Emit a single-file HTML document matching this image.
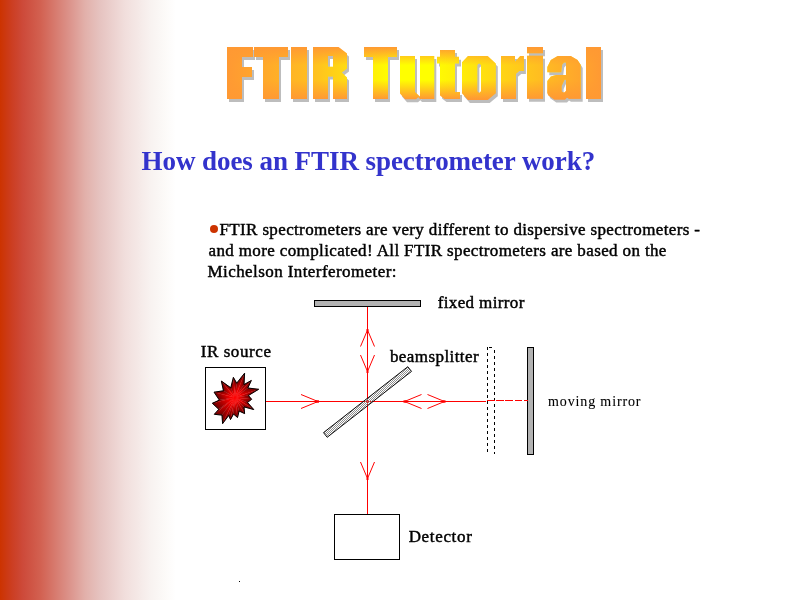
<!DOCTYPE html>
<html><head><meta charset="utf-8">
<style>
html,body{margin:0;padding:0;width:800px;height:600px;overflow:hidden;background:#fff}
#bg{position:absolute;left:0;top:0;width:800px;height:600px;
background:linear-gradient(to right,#CC3300 0px,#CC3E22 12px,#CD4A3A 23px,#D26050 40px,#D77A6E 55px,#DC948C 70px,#E2B0AA 85px,#E6C3C0 100px,#F1DEDC 125px,#F8F2F0 150px,#FCFAF8 165px,#FFFFFF 176px)}
svg{position:absolute;left:0;top:0;will-change:transform}
</style></head><body>
<div id="bg"></div>
<svg width="800" height="600" viewBox="0 0 800 600">
<defs>
  <linearGradient id="gv" x1="0" y1="47" x2="0" y2="99" gradientUnits="userSpaceOnUse">
    <stop offset="0" stop-color="#FF9933"/>
    <stop offset="0.5" stop-color="#FFFF00"/>
    <stop offset="1" stop-color="#FF9933"/>
  </linearGradient>
  <linearGradient id="gh" x1="227" y1="0" x2="601" y2="0" gradientUnits="userSpaceOnUse">
    <stop offset="0" stop-color="#FF9933" stop-opacity="1"/>
    <stop offset="0.5" stop-color="#FF9933" stop-opacity="0"/>
    <stop offset="1" stop-color="#FF9933" stop-opacity="1"/>
  </linearGradient>
  <radialGradient id="star" cx="235" cy="397" r="26" gradientUnits="userSpaceOnUse">
    <stop offset="0" stop-color="#FF0000"/>
    <stop offset="0.35" stop-color="#EE0000"/>
    <stop offset="1" stop-color="#7A0000"/>
  </radialGradient>
</defs>

<!-- heading -->
<text x="141.5" y="170" font-family="Liberation Serif" font-weight="bold" font-size="27" fill="#3333CC" letter-spacing="-0.06">How does an FTIR spectrometer work?</text>

<!-- bullet text -->
<circle cx="214" cy="229" r="4" fill="#CC3300"/>
<g font-family="Liberation Serif" font-size="17" fill="#000" stroke="#000" stroke-width="0.45" letter-spacing="0.32">
<text x="219.5" y="235" letter-spacing="0.36">FTIR spectrometers are very different to dispersive spectrometers -</text>
<text x="208.5" y="256" letter-spacing="0.37">and more complicated! All FTIR spectrometers are based on the</text>
<text x="207.5" y="277" letter-spacing="0.42">Michelson Interferometer:</text>
</g>

<!-- diagram labels -->
<g font-family="Liberation Serif" font-size="17" fill="#000" stroke="#000" stroke-width="0.45">
<text x="437.7" y="308" letter-spacing="0.37">fixed mirror</text>
<text x="200.7" y="357" letter-spacing="0.58">IR source</text>
<text x="389.9" y="361.5" letter-spacing="0.43">beamsplitter</text>
<text x="408.7" y="542" letter-spacing="0.66">Detector</text>
<text x="548" y="406" font-size="14" letter-spacing="0.87" stroke-width="0.1">moving mirror</text>
</g>

<!-- fixed mirror -->
<rect x="314.5" y="300.5" width="106" height="6" fill="#B2B2B2" stroke="#000" stroke-width="1"/>
<!-- moving mirror -->
<rect x="527.5" y="347.5" width="6" height="107" fill="#B2B2B2" stroke="#000" stroke-width="1"/>
<!-- dashed moving position -->
<g stroke="#000" stroke-width="1" stroke-dasharray="3 3" fill="none">
<line x1="487.5" y1="347" x2="487.5" y2="454"/>
<line x1="494.5" y1="350" x2="494.5" y2="454"/>
<line x1="489" y1="347.5" x2="493" y2="347.5"/>
</g>

<!-- red beams -->
<g stroke="#FF0000" stroke-width="1" fill="none">
<line x1="367.5" y1="307" x2="367.5" y2="514"/>
<line x1="266" y1="401.5" x2="486" y2="401.5"/>

<polyline points="360.5,346.5 367.5,330 374.5,346.5"/>
<polyline points="360.5,355 367.5,371.5 374.5,355"/>
<polyline points="360.5,462 367.5,478.5 374.5,462"/>
<polyline points="301,394.5 318,401.5 301,408.5"/>
<polyline points="421.5,394.5 404.5,401.5 421.5,408.5"/>
<polyline points="427.5,394.5 444.5,401.5 427.5,408.5"/>
</g>

<g fill="#FF0000" shape-rendering="crispEdges"><rect x="487" y="400" width="8" height="1"/><rect x="496" y="400" width="8" height="1"/><rect x="505" y="400" width="8" height="1"/><rect x="515" y="400" width="7" height="1"/><rect x="524" y="400" width="4" height="1"/></g>
<!-- beamsplitter -->
<defs><pattern id="chk" x="0" y="0" width="2" height="2" patternUnits="userSpaceOnUse"><rect x="0" y="0" width="1" height="1" fill="#8C8C8C"/><rect x="1" y="1" width="1" height="1" fill="#8C8C8C"/></pattern></defs>
<polygon points="411.5,371.4 407.8,366.7 323.5,432.6 327.2,437.3" fill="url(#chk)" stroke="#000" stroke-width="0.95"/>
<g fill="#FF0000">
<rect x="366.5" y="329" width="2" height="2.5"/>
<rect x="366.5" y="370.5" width="2" height="2.5"/>
<rect x="366.5" y="477.5" width="2" height="2.5"/>
<rect x="316" y="400.3" width="3" height="2.4"/>
<rect x="403.5" y="400.3" width="3" height="2.4"/>
<rect x="442.5" y="400.3" width="3" height="2.4"/>
</g>
<!-- IR source box -->
<rect x="205.5" y="367.5" width="60" height="62" fill="#fff" stroke="#000" stroke-width="1"/>
<defs><linearGradient id="sg0" gradientUnits="userSpaceOnUse" x1="235" y1="397.5" x2="243.30" y2="397.94"><stop offset="0" stop-color="#FF0000"/><stop offset="0.3" stop-color="#F00000"/><stop offset="1" stop-color="#700000"/></linearGradient><linearGradient id="sg1" gradientUnits="userSpaceOnUse" x1="235" y1="397.5" x2="231.65" y2="391.54"><stop offset="0" stop-color="#FF0000"/><stop offset="0.3" stop-color="#F00000"/><stop offset="1" stop-color="#700000"/></linearGradient><linearGradient id="sg2" gradientUnits="userSpaceOnUse" x1="235" y1="397.5" x2="241.87" y2="400.71"><stop offset="0" stop-color="#FF0000"/><stop offset="0.3" stop-color="#F00000"/><stop offset="1" stop-color="#700000"/></linearGradient><linearGradient id="sg3" gradientUnits="userSpaceOnUse" x1="235" y1="397.5" x2="236.31" y2="386.62"><stop offset="0" stop-color="#FF0000"/><stop offset="0.3" stop-color="#F00000"/><stop offset="1" stop-color="#700000"/></linearGradient><linearGradient id="sg4" gradientUnits="userSpaceOnUse" x1="235" y1="397.5" x2="237.73" y2="401.99"><stop offset="0" stop-color="#FF0000"/><stop offset="0.3" stop-color="#F00000"/><stop offset="1" stop-color="#700000"/></linearGradient><linearGradient id="sg5" gradientUnits="userSpaceOnUse" x1="235" y1="397.5" x2="243.83" y2="390.07"><stop offset="0" stop-color="#FF0000"/><stop offset="0.3" stop-color="#F00000"/><stop offset="1" stop-color="#700000"/></linearGradient><linearGradient id="sg6" gradientUnits="userSpaceOnUse" x1="235" y1="397.5" x2="242.16" y2="406.67"><stop offset="0" stop-color="#FF0000"/><stop offset="0.3" stop-color="#F00000"/><stop offset="1" stop-color="#700000"/></linearGradient><linearGradient id="sg7" gradientUnits="userSpaceOnUse" x1="235" y1="397.5" x2="239.52" y2="393.49"><stop offset="0" stop-color="#FF0000"/><stop offset="0.3" stop-color="#F00000"/><stop offset="1" stop-color="#700000"/></linearGradient><linearGradient id="sg8" gradientUnits="userSpaceOnUse" x1="235" y1="397.5" x2="233.25" y2="404.02"><stop offset="0" stop-color="#FF0000"/><stop offset="0.3" stop-color="#F00000"/><stop offset="1" stop-color="#700000"/></linearGradient><linearGradient id="sg9" gradientUnits="userSpaceOnUse" x1="235" y1="397.5" x2="243.09" y2="396.78"><stop offset="0" stop-color="#FF0000"/><stop offset="0.3" stop-color="#F00000"/><stop offset="1" stop-color="#700000"/></linearGradient><linearGradient id="sg10" gradientUnits="userSpaceOnUse" x1="235" y1="397.5" x2="230.53" y2="406.95"><stop offset="0" stop-color="#FF0000"/><stop offset="0.3" stop-color="#F00000"/><stop offset="1" stop-color="#700000"/></linearGradient><linearGradient id="sg11" gradientUnits="userSpaceOnUse" x1="235" y1="397.5" x2="242.00" y2="399.22"><stop offset="0" stop-color="#FF0000"/><stop offset="0.3" stop-color="#F00000"/><stop offset="1" stop-color="#700000"/></linearGradient><linearGradient id="sg12" gradientUnits="userSpaceOnUse" x1="235" y1="397.5" x2="226.17" y2="407.59"><stop offset="0" stop-color="#FF0000"/><stop offset="0.3" stop-color="#F00000"/><stop offset="1" stop-color="#700000"/></linearGradient><linearGradient id="sg13" gradientUnits="userSpaceOnUse" x1="235" y1="397.5" x2="240.78" y2="400.65"><stop offset="0" stop-color="#FF0000"/><stop offset="0.3" stop-color="#F00000"/><stop offset="1" stop-color="#700000"/></linearGradient><linearGradient id="sg14" gradientUnits="userSpaceOnUse" x1="235" y1="397.5" x2="223.13" y2="402.71"><stop offset="0" stop-color="#FF0000"/><stop offset="0.3" stop-color="#F00000"/><stop offset="1" stop-color="#700000"/></linearGradient><linearGradient id="sg15" gradientUnits="userSpaceOnUse" x1="235" y1="397.5" x2="239.52" y2="400.86"><stop offset="0" stop-color="#FF0000"/><stop offset="0.3" stop-color="#F00000"/><stop offset="1" stop-color="#700000"/></linearGradient><linearGradient id="sg16" gradientUnits="userSpaceOnUse" x1="235" y1="397.5" x2="220.83" y2="398.50"><stop offset="0" stop-color="#FF0000"/><stop offset="0.3" stop-color="#F00000"/><stop offset="1" stop-color="#700000"/></linearGradient><linearGradient id="sg17" gradientUnits="userSpaceOnUse" x1="235" y1="397.5" x2="233.03" y2="416.26"><stop offset="0" stop-color="#FF0000"/><stop offset="0.3" stop-color="#F00000"/><stop offset="1" stop-color="#700000"/></linearGradient><linearGradient id="sg18" gradientUnits="userSpaceOnUse" x1="235" y1="397.5" x2="231.72" y2="394.62"><stop offset="0" stop-color="#FF0000"/><stop offset="0.3" stop-color="#F00000"/><stop offset="1" stop-color="#700000"/></linearGradient><linearGradient id="sg19" gradientUnits="userSpaceOnUse" x1="235" y1="397.5" x2="221.53" y2="411.86"><stop offset="0" stop-color="#FF0000"/><stop offset="0.3" stop-color="#F00000"/><stop offset="1" stop-color="#700000"/></linearGradient><linearGradient id="sg20" gradientUnits="userSpaceOnUse" x1="235" y1="397.5" x2="233.29" y2="393.75"><stop offset="0" stop-color="#FF0000"/><stop offset="0.3" stop-color="#F00000"/><stop offset="1" stop-color="#700000"/></linearGradient><linearGradient id="sg21" gradientUnits="userSpaceOnUse" x1="235" y1="397.5" x2="223.04" y2="405.52"><stop offset="0" stop-color="#FF0000"/><stop offset="0.3" stop-color="#F00000"/><stop offset="1" stop-color="#700000"/></linearGradient><linearGradient id="sg22" gradientUnits="userSpaceOnUse" x1="235" y1="397.5" x2="233.72" y2="389.17"><stop offset="0" stop-color="#FF0000"/><stop offset="0.3" stop-color="#F00000"/><stop offset="1" stop-color="#700000"/></linearGradient><linearGradient id="sg23" gradientUnits="userSpaceOnUse" x1="235" y1="397.5" x2="225.42" y2="399.58"><stop offset="0" stop-color="#FF0000"/><stop offset="0.3" stop-color="#F00000"/><stop offset="1" stop-color="#700000"/></linearGradient><linearGradient id="sg24" gradientUnits="userSpaceOnUse" x1="235" y1="397.5" x2="238.15" y2="393.10"><stop offset="0" stop-color="#FF0000"/><stop offset="0.3" stop-color="#F00000"/><stop offset="1" stop-color="#700000"/></linearGradient><linearGradient id="sg25" gradientUnits="userSpaceOnUse" x1="235" y1="397.5" x2="228.69" y2="395.89"><stop offset="0" stop-color="#FF0000"/><stop offset="0.3" stop-color="#F00000"/><stop offset="1" stop-color="#700000"/></linearGradient><linearGradient id="sg26" gradientUnits="userSpaceOnUse" x1="235" y1="397.5" x2="242.43" y2="393.27"><stop offset="0" stop-color="#FF0000"/><stop offset="0.3" stop-color="#F00000"/><stop offset="1" stop-color="#700000"/></linearGradient><linearGradient id="sg27" gradientUnits="userSpaceOnUse" x1="235" y1="397.5" x2="229.09" y2="392.83"><stop offset="0" stop-color="#FF0000"/><stop offset="0.3" stop-color="#F00000"/><stop offset="1" stop-color="#700000"/></linearGradient></defs>
<g><polygon points="235,397.5 244.6,373.2 244.0,384.6" fill="url(#sg0)" stroke="url(#sg0)" stroke-width="0.3"/><polygon points="235,397.5 244.0,384.6 251.3,380.5" fill="url(#sg1)" stroke="url(#sg1)" stroke-width="0.3"/><polygon points="235,397.5 251.3,380.5 247.8,388.0" fill="url(#sg2)" stroke="url(#sg2)" stroke-width="0.3"/><polygon points="235,397.5 247.8,388.0 258.6,389.3" fill="url(#sg3)" stroke="url(#sg3)" stroke-width="0.3"/><polygon points="235,397.5 258.6,389.3 248.4,395.5" fill="url(#sg4)" stroke="url(#sg4)" stroke-width="0.3"/><polygon points="235,397.5 248.4,395.5 251.6,399.3" fill="url(#sg5)" stroke="url(#sg5)" stroke-width="0.3"/><polygon points="235,397.5 251.6,399.3 247.5,402.5" fill="url(#sg6)" stroke="url(#sg6)" stroke-width="0.3"/><polygon points="235,397.5 247.5,402.5 253.7,409.5" fill="url(#sg7)" stroke="url(#sg7)" stroke-width="0.3"/><polygon points="235,397.5 253.7,409.5 244.0,406.9" fill="url(#sg8)" stroke="url(#sg8)" stroke-width="0.3"/><polygon points="235,397.5 244.0,406.9 244.6,413.6" fill="url(#sg9)" stroke="url(#sg9)" stroke-width="0.3"/><polygon points="235,397.5 244.6,413.6 239.1,411.0" fill="url(#sg10)" stroke="url(#sg10)" stroke-width="0.3"/><polygon points="235,397.5 239.1,411.0 237.5,417.5" fill="url(#sg11)" stroke="url(#sg11)" stroke-width="0.3"/><polygon points="235,397.5 237.5,417.5 233.5,414.0" fill="url(#sg12)" stroke="url(#sg12)" stroke-width="0.3"/><polygon points="235,397.5 233.5,414.0 230.5,419.5" fill="url(#sg13)" stroke="url(#sg13)" stroke-width="0.3"/><polygon points="235,397.5 230.5,419.5 228.7,415.4" fill="url(#sg14)" stroke="url(#sg14)" stroke-width="0.3"/><polygon points="235,397.5 228.7,415.4 222.6,423.6" fill="url(#sg15)" stroke="url(#sg15)" stroke-width="0.3"/><polygon points="235,397.5 222.6,423.6 222.0,415.1" fill="url(#sg16)" stroke="url(#sg16)" stroke-width="0.3"/><polygon points="235,397.5 222.0,415.1 214.4,414.3" fill="url(#sg17)" stroke="url(#sg17)" stroke-width="0.3"/><polygon points="235,397.5 214.4,414.3 218.8,409.3" fill="url(#sg18)" stroke="url(#sg18)" stroke-width="0.3"/><polygon points="235,397.5 218.8,409.3 212.4,403.3" fill="url(#sg19)" stroke="url(#sg19)" stroke-width="0.3"/><polygon points="235,397.5 212.4,403.3 219.4,400.1" fill="url(#sg20)" stroke="url(#sg20)" stroke-width="0.3"/><polygon points="235,397.5 219.4,400.1 214.1,392.2" fill="url(#sg21)" stroke="url(#sg21)" stroke-width="0.3"/><polygon points="235,397.5 214.1,392.2 223.5,390.75" fill="url(#sg22)" stroke="url(#sg22)" stroke-width="0.3"/><polygon points="235,397.5 223.5,390.75 221.4,381.1" fill="url(#sg23)" stroke="url(#sg23)" stroke-width="0.3"/><polygon points="235,397.5 221.4,381.1 230.75,387.8" fill="url(#sg24)" stroke="url(#sg24)" stroke-width="0.3"/><polygon points="235,397.5 230.75,387.8 233.4,377.4" fill="url(#sg25)" stroke="url(#sg25)" stroke-width="0.3"/><polygon points="235,397.5 233.4,377.4 236.7,383.2" fill="url(#sg26)" stroke="url(#sg26)" stroke-width="0.3"/><polygon points="235,397.5 236.7,383.2 244.6,373.2" fill="url(#sg27)" stroke="url(#sg27)" stroke-width="0.3"/></g>
<polygon fill="none" stroke="#000" stroke-width="1" points="244.6,373.2 244,384.6 251.3,380.5 247.8,388 258.6,389.3 248.4,395.5 251.6,399.3 247.5,402.5 253.7,409.5 244,406.9 244.6,413.6 239.1,411 237.5,417.5 233.5,414 230.5,419.5 228.7,415.4 222.6,423.6 222,415.1 214.4,414.3 218.8,409.3 212.4,403.3 219.4,400.1 214.1,392.2 223.5,390.75 221.4,381.1 230.75,387.8 233.4,377.4 236.7,383.2"/>

<!-- detector -->
<rect x="334.5" y="514.5" width="65" height="45" fill="#fff" stroke="#000" stroke-width="1"/>
<rect x="239" y="581" width="1" height="1" fill="#000"/>

<!-- TITLE -->
<defs>
  <linearGradient id="gV" x1="0" y1="47" x2="0" y2="99" gradientUnits="userSpaceOnUse"><stop offset="0" stop-color="#FF9933"/><stop offset="0.35" stop-color="#FFFF00"/><stop offset="0.63" stop-color="#FFFF00"/><stop offset="1" stop-color="#FF9933"/></linearGradient>
  <linearGradient id="gH" x1="227" y1="0" x2="601" y2="0" gradientUnits="userSpaceOnUse"><stop offset="0" stop-color="#FF9933" stop-opacity="1"/><stop offset="0.22" stop-color="#FF9933" stop-opacity="0.65"/><stop offset="0.44" stop-color="#FF9933" stop-opacity="0"/><stop offset="0.543" stop-color="#FF9933" stop-opacity="0"/><stop offset="1" stop-color="#FF9933" stop-opacity="1"/></linearGradient>
  <path id="glyphs" fill-rule="evenodd" clip-rule="evenodd" d="
M227,47H253V57H242V67H252V77H242V99H227Z
M254,47H288V57H279V99H263V57H254Z
M291,47H307V99H291Z
M313,47H338.5L347,53.5V68.5L341.8,72.5L347,77.5V99H333V76.5H328V99H313Z M328,56H333V66.8H328Z
M364,47H397V57H388V99H373V57H364Z
M400,56H415V92L420,96.5V56H434.3V99H420L418.3,97.3L416,99.3H405L400,93.5Z
M440,50H455V56.8H459V63.5H455V92H460V99H444.5L440,95.5V63.5H437V56.8H440Z
M462,62.2L467.9,56.1H487.7L495.8,63.5V93.2L487.7,100H467.9L462,93.2Z M477.3,65L479.1,63.3L481,65V91.2L479.1,93L477.3,91.2Z
M501,56.1H515V61.8L520.2,56.1H523.9V70.9H519.2L516,73.8V99H501Z
M527,47H543V53.2H527Z M527,55.8H543V98.8H527Z
M547.3,72.3H561.2L562.2,64.5L564,62.5H566V75H556L550.8,76.5L547.3,81V92.7L548.2,95.3L554.3,99.6H565L567,97.5L569,98.75H580.7V65L577.6,60L570.7,56H557.7L550.8,60L547.3,67Z M561.6,86L564.5,79.7H566V91L564,92.8L561.6,91.5Z
M586,47H601V99H586Z"/>
  <clipPath id="gclip"><use href="#glyphs"/></clipPath>
</defs>
<use href="#glyphs" fill="#BDBDBD" transform="translate(2,3)"/>
<g clip-path="url(#gclip)">
  <rect x="226" y="46" width="376" height="55" fill="url(#gV)"/>
  <rect x="226" y="46" width="376" height="55" fill="url(#gH)"/>
</g>
</svg>
</body></html>
